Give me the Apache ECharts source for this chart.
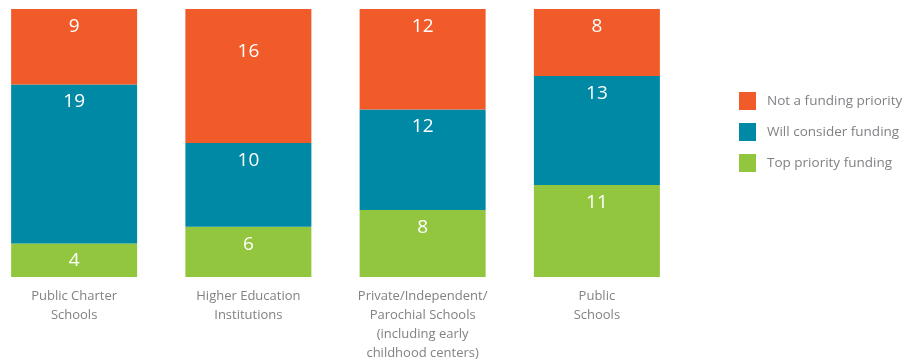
<!DOCTYPE html>
<html>
<head>
<meta charset="utf-8">
<script src="https://cdn.jsdelivr.net/npm/echarts@6/dist/echarts.min.js"></script>
<style>
  html, body { margin: 0; padding: 0; background: #fff; }
  #chart { width: 916px; height: 360px; }
</style>
</head>
<body>
<div id="chart"></div>
<script>
// Funding categories shown along the x axis
const categories = [
  'Public Charter\nSchools',
  'Higher Education\nInstitutions',
  'Private/Independent/\nParochial Schools\n(including early\nchildhood centers)',
  'Public\nSchools'
];

// Response counts per category, stacked bottom to top
const topPriority = [4, 6, 8, 11];
const willConsider = [19, 10, 12, 13];
const notPriority = [9, 16, 12, 8];

const seriesNames = ['Top priority funding', 'Will consider funding', 'Not a funding priority'];
const seriesColors = ['#93C63F', '#0089A4', '#F15A29'];
const seriesValues = [topPriority, willConsider, notPriority];

const font = '"Open Sans", "Noto Sans", sans-serif';

const chart = echarts.init(document.getElementById('chart'), null, { renderer: 'canvas' });

// The tallest segment carries its value label a little lower inside the bar
function buildData(values, seriesIndex) {
  return values.map((v, j) => {
    if (seriesIndex === 2 && j === 1) {
      return { value: v, label: { distance: 33 } };
    }
    return v;
  });
}

chart.setOption({
  animation: false,
  textStyle: { fontFamily: font },
  grid: {
    left: -13, top: 9, width: 697, height: 268,
    containLabel: false,
    outerBoundsMode: 'none'
  },
  xAxis: {
    type: 'category',
    data: categories,
    axisLine: { show: false },
    axisTick: { show: false },
    axisLabel: {
      margin: 10,
      color: '#808285',
      fontSize: 13,
      lineHeight: 19,
      fontFamily: font,
      interval: 0
    }
  },
  yAxis: {
    type: 'value',
    min: 0,
    max: 32,
    show: false,
    splitLine: { show: false }
  },
  legend: {
    orient: 'vertical',
    left: 739,
    top: 92,
    padding: 0,
    itemWidth: 17,
    itemHeight: 18,
    itemGap: 13,
    icon: 'rect',
    data: [seriesNames[2], seriesNames[1], seriesNames[0]],
    textStyle: { color: '#808285', fontSize: 13.5, fontFamily: font, padding: [0, 0, 0, 6] }
  },
  series: seriesNames.map((name, i) => ({
    name: name,
    type: 'bar',
    stack: 'total',
    barWidth: 126,
    data: buildData(seriesValues[i], i),
    itemStyle: { color: seriesColors[i] },
    label: {
      show: true,
      position: 'insideTop',
      distance: 8,
      color: '#ffffff',
      fontSize: 19,
      fontFamily: font
    }
  }))
});
</script>
</body>
</html>
